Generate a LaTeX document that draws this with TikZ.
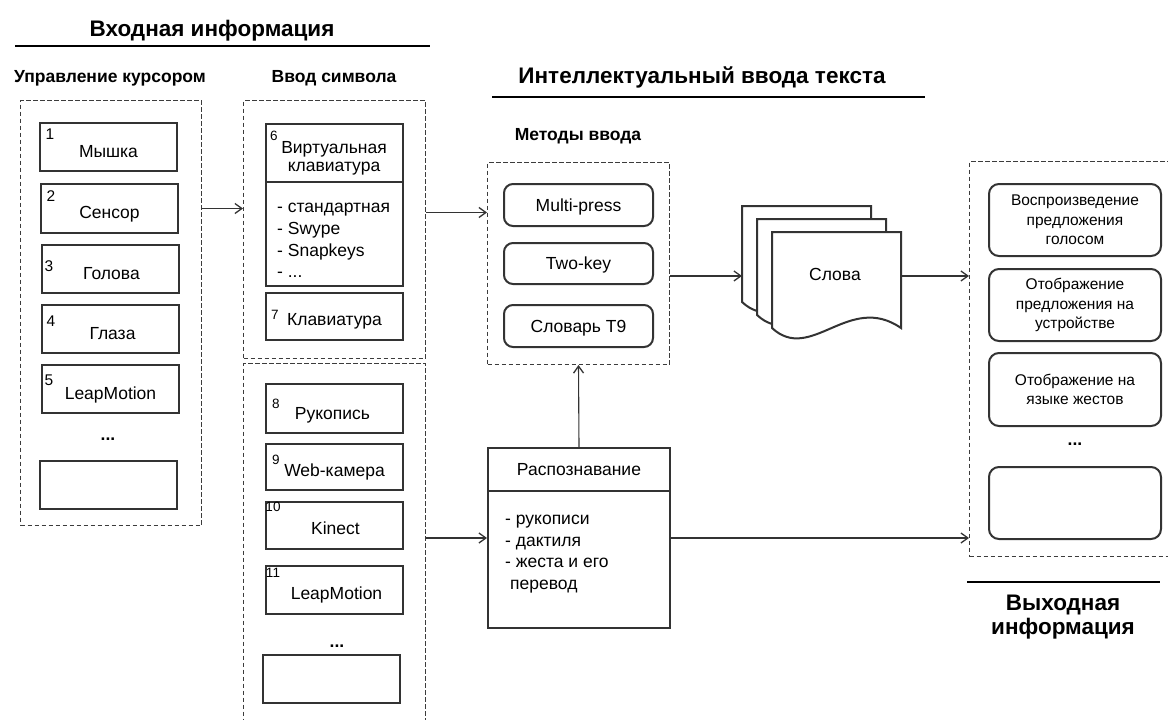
\documentclass[tikz,border=0pt]{standalone}
\usepackage{fontspec}
\setmainfont{Liberation Sans}
\usetikzlibrary{arrows.meta,calc}
\definecolor{ink}{HTML}{333333}
\definecolor{dashink}{HTML}{3c3c3c}
\tikzset{
  txt/.style={font=\fontsize{17.5}{20}\selectfont, inner sep=0pt},
  txtb/.style={txt, anchor=base},
  txtl/.style={txt, anchor=base west},
  numtxt/.style={font=\fontsize{13.5}{15}\selectfont, inner sep=0pt},
  numbig/.style={font=\fontsize{15.5}{17}\selectfont, inner sep=0pt},
  dots/.style={font=\fontsize{17.5}{20}\selectfont\bfseries, inner sep=0pt, anchor=base},
  headline/.style={font=\fontsize{22.5}{26}\selectfont\bfseries, inner sep=0pt, anchor=base},
  subhead/.style={font=\fontsize{17.5}{21}\selectfont\bfseries, inner sep=0pt, anchor=base},
  grp/.style={draw=dashink, line width=1pt, dash pattern=on 4.5pt off 2.5pt, anchor=north west, inner sep=0pt},
  card/.style={draw=ink, line width=2pt, fill=white, anchor=north west, inner sep=0pt},
  pill/.style={card, rounded corners=9pt, font=\fontsize{17.5}{19.5}\selectfont, align=center},
  outpill/.style={pill, rounded corners=10pt, font=\fontsize{15.5}{19.5}\selectfont},
  oneline/.style={text height=12.5pt, text depth=0pt},
  hrule/.style={line width=2pt, draw=black},
  link/.style={line width=1.1pt, draw=ink, -{Straight Barb[length=7pt,width=10pt,line width=1.3pt]}},
  sheet/.style={draw=ink, line width=2pt, fill=white},
}
\begin{document}
\begin{tikzpicture}[x=1pt,y=-1pt]
\useasboundingbox (0,0) rectangle (1168,720);
\clip (0,0) rectangle (1168,720);

% ---------- headings ----------
\node[headline] (tin) at (212,36) {Входная информация};
\draw[hrule] (15,46) -- (430,46);
\node[subhead] (tcur) at (110,82) {Управление курсором};
\node[subhead] (tsym) at (334,82) {Ввод символа};
\node[headline] (tmid) at (702,83) {Интеллектуальный ввода текста};
\draw[hrule] (492,97) -- (925,97);
\node[subhead] (tmeth) at (578,140) {Методы ввода};
\draw[hrule] (967,582) -- (1160,582);
\node[headline] (tout1) at (1063,610) {Выходная};
\node[headline] (tout2) at (1063,634) {информация};

% ---------- cursor control ----------
\node[grp, minimum width=181pt, minimum height=425pt] (cur) at (20,100) {};
\node[card, minimum width=137pt, minimum height=48pt] (b1) at (39,122) {};
\node[card, minimum width=137pt, minimum height=49pt] (b2) at (40,183) {};
\node[card, minimum width=137pt, minimum height=48pt] (b3) at (41,244) {};
\node[card, minimum width=137pt, minimum height=48pt] (b4) at (41,304) {};
\node[card, minimum width=137pt, minimum height=48pt] (b5) at (41,364) {};
\node[card, minimum width=137pt, minimum height=48pt] (b0) at (39,460) {};
\node[txtb] (b1l) at ($(b1.south)+(0,-15)$) {Мышка};
\node[txtb] (b2l) at ($(b2.south)+(0,-16)$) {Сенсор};
\node[txtb] (b3l) at ($(b3.south)+(1,-15)$) {Голова};
\node[txtb] (b4l) at ($(b4.south)+(2,-15)$) {Глаза};
\node[txtb] (b5l) at ($(b5.south)+(0,-15)$) {LeapMotion};
\node[numbig] (b1n) at (50,134) {1};
\node[numbig] (b2n) at (51,196) {2};
\node[numbig] (b3n) at (49,266) {3};
\node[numbig] (b4n) at (51,321) {4};
\node[numbig] (b5n) at (49,380) {5};
\node[dots] (cdots) at (108,440) {...};

% ---------- symbol input ----------
\node[grp, minimum width=182pt, minimum height=258pt] (sym) at (243,100) {};
\node[card, minimum width=137pt, minimum height=162pt] (kb) at (265,123) {};
\draw[draw=ink, line width=1.5pt] (kb.west |- 0,182) -- (kb.east |- 0,182);
\node[txtb] (kbt1) at (334,153) {Виртуальная};
\node[txtb] (kbt2) at (334,171) {клавиатура};
\node[numtxt] (kbn) at (274,136) {6};
\node[txtl] (kbl1) at (277,212) {- стандартная};
\node[txtl] (kbl2) at (277,234) {- Swype};
\node[txtl] (kbl3) at (277,256) {- Snapkeys};
\node[txtl] (kbl4) at (277,277) {- ...};
\node[card, minimum width=137pt, minimum height=47pt] (kb7) at (265,292) {};
\node[txtb] (kb7l) at ($(kb7.south)+(0,-16)$) {Клавиатура};
\node[numtxt] (kb7n) at (275,315) {7};

% ---------- other symbol sources ----------
\node[grp, minimum width=182pt, minimum height=380pt] (hw) at (243,363) {};
\node[card, minimum width=137pt, minimum height=49pt] (b8) at (265,383) {};
\node[card, minimum width=137pt, minimum height=46pt] (b9) at (265,443) {};
\node[card, minimum width=137pt, minimum height=47pt] (b10) at (265,501) {};
\node[card, minimum width=137pt, minimum height=48pt] (b11) at (265,565) {};
\node[card, minimum width=137pt, minimum height=48pt] (b12) at (262,654) {};
\node[txtb] (b8l) at ($(b8.south)+(-2,-15)$) {Рукопись};
\node[txtb] (b9l) at ($(b9.south)+(0,-15)$) {Web-камера};
\node[txtb] (b10l) at ($(b10.south)+(1,-16)$) {Kinect};
\node[txtb] (b11l) at ($(b11.south)+(2,-16)$) {LeapMotion};
\node[numtxt] (b8n) at (276,404) {8};
\node[numtxt] (b9n) at (276,460) {9};
\node[numtxt] (b10n) at (273,507) {10};
\node[numtxt] (b11n) at (273,573) {11};
\node[dots] (hdots) at (337,647) {...};

% ---------- input methods ----------
\node[grp, minimum width=182pt, minimum height=202pt] (meth) at (487,162) {};
\node[pill, oneline, minimum width=149pt, minimum height=42pt] (m1) at (503,183) {Multi-press};
\node[pill, oneline, minimum width=149pt, minimum height=41pt] (m2) at (503,242) {Two-key};
\node[pill, oneline, minimum width=149pt, minimum height=42pt] (m3) at (503,304) {Словарь T9};

% ---------- recognition ----------
\node[card, minimum width=182pt, minimum height=180pt] (rec) at (487,447) {};
\draw[draw=ink, line width=1.5pt] (rec.west |- 0,491) -- (rec.east |- 0,491);
\node[txtb] (rect) at (579,475) {Распознавание};
\node[txtl] (recl1) at (505,524) {- рукописи};
\node[txtl] (recl2) at (505,546) {- дактиля};
\node[txtl] (recl3) at (505,567) {- жеста и его};
\node[txtl] (recl4) at (510,589) {перевод};

% ---------- words (stack of documents) ----------
\foreach \i in {0,1,2} {
  \begin{scope}[shift={(742+15*\i,206+13*\i)}]
    \node[inner sep=0pt, anchor=north west, minimum width=129pt, minimum height=96pt] (sheet\i) at (0,0) {};
    \draw[sheet] (0,0) -- (129,0) -- (129,96)
      .. controls (77,60) and (39,132) .. (0,96) -- cycle;
  \end{scope}
}
\node[txtb] (words) at (835,280) {Слова};

% ---------- output ----------
\node[grp, minimum width=215pt, minimum height=395pt] (out) at (969,161) {};
\node[outpill, minimum width=172pt, minimum height=72pt] (o1) at (988,183) {Воспроизведение\\предложения\\голосом};
\node[outpill, minimum width=172pt, minimum height=72pt] (o2) at (988,268) {Отображение\\предложения на\\устройстве};
\node[outpill, minimum width=172pt, minimum height=73pt] (o3) at (988,352) {Отображение на\\языке жестов};
\node[dots] (odots) at (1075,445) {...};
\node[outpill, minimum width=172pt, minimum height=72pt] (o4) at (988,466) {};

% ---------- connectors ----------
\draw[link] (cur.east |- b2.center) -- (sym.west |- b2.center);
\coordinate (s1) at ([yshift=17pt]sym.east);
\draw[link] (s1) -- (s1 -| meth.west);
\draw[link] (hw.east |- rec.west) -- (rec.west);
\draw[link] (rec.north) -- (meth.south);
\coordinate (w1) at (meth.east |- words.center);
\draw[link] ([yshift=-2pt]w1) -- ([yshift=-2pt]w1 -| sheet0.west);
\coordinate (w2) at (sheet2.east |- words.center);
\draw[link] ([yshift=-2pt]w2) -- ([yshift=-2pt]w2 -| out.west);
\draw[link] (rec.east) -- (rec.east -| out.west);
\end{tikzpicture}
\end{document}
